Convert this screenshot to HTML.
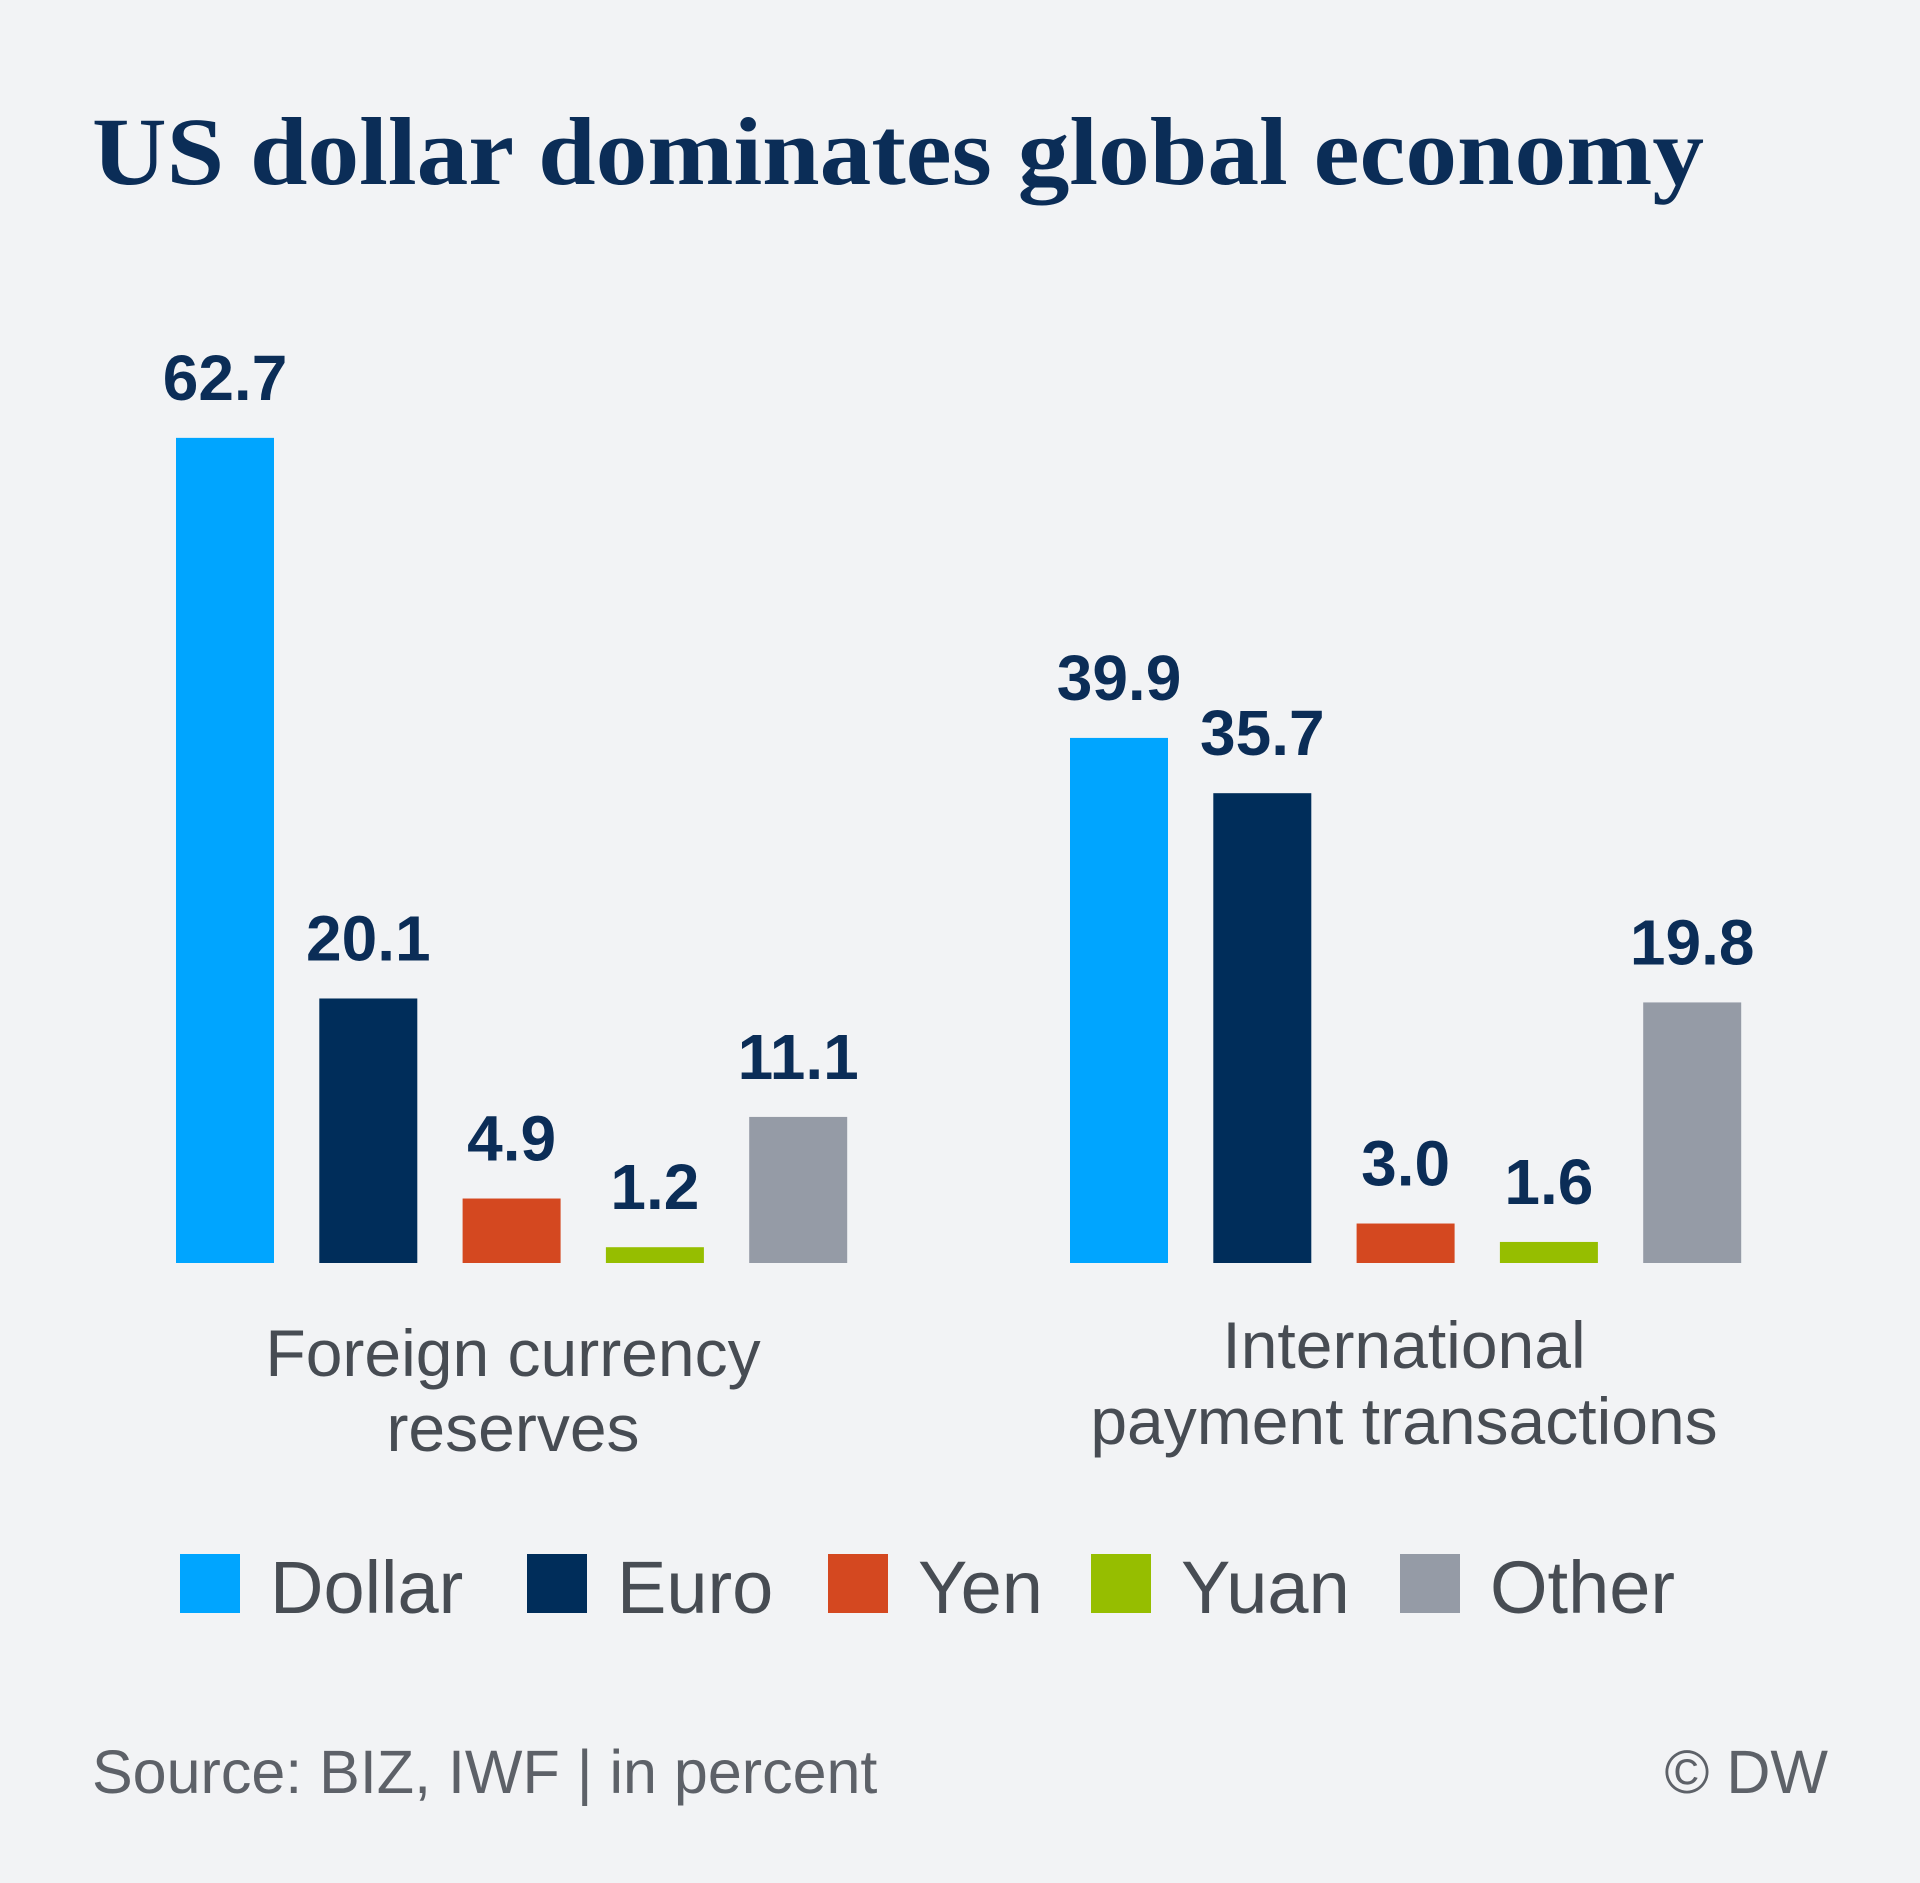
<!DOCTYPE html>
<html><head><meta charset="utf-8"><style>
html,body{margin:0;padding:0;background:#f2f3f5;}
svg{display:block;}
</style></head><body>
<svg id="chart" width="1920" height="1883" viewBox="0 0 1920 1883" xmlns="http://www.w3.org/2000/svg">
<rect width="1920" height="1883" fill="#f2f3f5"/>
<text x="92" y="184" font-family="Liberation Serif, serif" font-weight="bold" font-size="96" fill="#0b2d57" textLength="1612" lengthAdjust="spacingAndGlyphs">US dollar dominates global economy</text>
<g id="bars"></g>
<g font-family="Liberation Sans, sans-serif" font-size="66" fill="#474c53" text-anchor="middle">
<text x="513" y="1376">Foreign currency</text>
<text x="513" y="1451">reserves</text>
<text x="1404" y="1368">International</text>
<text x="1404" y="1444">payment transactions</text>
</g>
<g id="legend"></g>
<text x="92" y="1793" font-family="Liberation Sans, sans-serif" font-size="61" fill="#5d6168">Source: BIZ, IWF | in percent</text>
<text x="1828" y="1793" text-anchor="end" font-family="Liberation Sans, sans-serif" font-size="61" fill="#5d6168">© DW</text>
</svg>
<script>
const categories = ["Foreign currency reserves", "International payment transactions"];
const series = ["Dollar", "Euro", "Yen", "Yuan", "Other"];
const reservesValues = [62.7, 20.1, 4.9, 1.2, 11.1];
const paymentsValues = [39.9, 35.7, 3.0, 1.6, 19.8];
const valueLabels = [["62.7","20.1","4.9","1.2","11.1"],["39.9","35.7","3.0","1.6","19.8"]];
const colors = ["#00a5ff", "#002d5a", "#d44820", "#96be00", "#959ba6"];

const NS = "http://www.w3.org/2000/svg";
const baseY = 1263, pxPerUnit = 13.16;
const groupStart = [176, 1070], barStep = 143.3, barW = 98;
function yScale(v){ return baseY - v * pxPerUnit; }
function xScale(g, i){ return groupStart[g] + i * barStep; }

const barsG = document.getElementById('bars');
[reservesValues, paymentsValues].forEach((vals, g) => {
  vals.forEach((v, i) => {
    const r = document.createElementNS(NS, 'rect');
    
    
    r.setAttribute('x', xScale(g, i));
    r.setAttribute('y', yScale(v));
    r.setAttribute('width', barW);
    r.setAttribute('height', baseY - yScale(v));
    r.setAttribute('fill', colors[i]);
    barsG.appendChild(r);
    const t = document.createElementNS(NS, 'text');
    
    
    t.setAttribute('x', xScale(g, i) + barW / 2);
    t.setAttribute('y', yScale(v) - 38);
    t.setAttribute('text-anchor', 'middle');
    t.setAttribute('font-family', 'Liberation Sans, sans-serif');
    t.setAttribute('font-weight', 'bold');
    t.setAttribute('font-size', '64');
    t.setAttribute('fill', '#0b2d57');
    t.textContent = valueLabels[g][i];
    barsG.appendChild(t);
  });
});

const legendG = document.getElementById('legend');
const legendX = [180, 527, 828, 1091, 1400];
series.forEach((s, i) => {
  const r = document.createElementNS(NS, 'rect');
  
  
  r.setAttribute('x', legendX[i]);
  r.setAttribute('y', 1554);
  r.setAttribute('width', 60);
  r.setAttribute('height', 59);
  r.setAttribute('fill', colors[i]);
  legendG.appendChild(r);
  const t = document.createElementNS(NS, 'text');
  
  
  t.setAttribute('x', legendX[i] + 90);
  t.setAttribute('y', 1613);
  t.setAttribute('font-family', 'Liberation Sans, sans-serif');
  t.setAttribute('font-size', '74');
  t.setAttribute('fill', '#474c53');
  t.textContent = s;
  legendG.appendChild(t);
});
</script>
</body></html>
